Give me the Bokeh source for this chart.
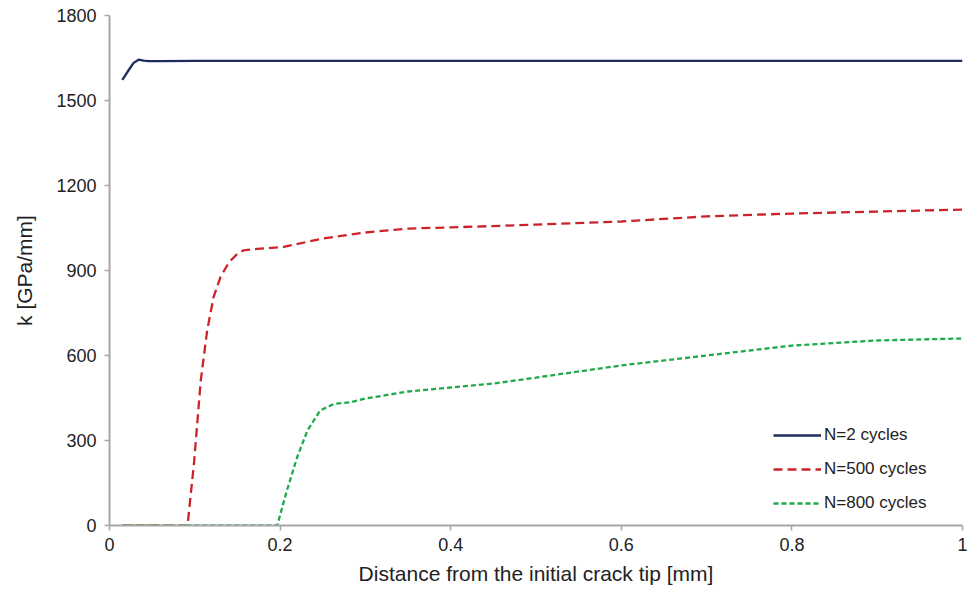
from bokeh.plotting import figure
from bokeh.models import Range1d, Legend, LegendItem, FixedTicker
from bokeh.embed import file_html
from bokeh.resources import INLINE

# N=2 cycles
x_n2 = [0.015, 0.022, 0.028, 0.034, 0.040, 0.046, 0.060, 0.10, 0.20, 0.40, 0.60, 0.80, 1.00]
k_n2 = [1573, 1605, 1632, 1644, 1641, 1639, 1639, 1640, 1640, 1640, 1640, 1640, 1640]

# N=500 cycles
x_n500 = [0.015, 0.060, 0.090, 0.0915, 0.099, 0.107, 0.1145, 0.122, 0.130, 0.140, 0.150, 0.157,
          0.173, 0.204, 0.25, 0.30, 0.35, 0.40, 0.50, 0.60, 0.70, 0.80, 0.90, 1.00]
k_n500 = [0, 0, 0, 0, 218, 512, 688, 806, 876, 929, 959, 971,
          976, 983, 1013, 1034, 1048, 1052, 1062, 1073, 1091, 1101, 1108, 1115]

# N=800 cycles
x_n800 = [0.015, 0.10, 0.194, 0.1966, 0.208, 0.220, 0.232, 0.247, 0.263, 0.2825,
          0.30, 0.35, 0.40, 0.45, 0.50, 0.60, 0.70, 0.80, 0.90, 1.00]
k_n800 = [0, 0, 0, 0, 124, 241, 335, 406, 429, 435,
          448, 473, 487, 501, 522, 565, 600, 635, 653, 660]

x_ticks = [0, 0.2, 0.4, 0.6, 0.8, 1.0]
y_ticks = [0, 300, 600, 900, 1200, 1500, 1800]
labels = ["N=2 cycles", "N=500 cycles", "N=800 cycles"]

FONT = "Liberation Sans"

p = figure(width=969, height=603, output_backend="svg", toolbar_location=None,
           x_range=Range1d(0, 1), y_range=Range1d(0, 1800),
           min_border_left=109, min_border_right=7, min_border_top=15, min_border_bottom=78)
p.outline_line_color = None
p.xgrid.grid_line_color = None
p.ygrid.grid_line_color = None
p.background_fill_color = "white"
p.border_fill_color = "white"

r1 = p.line(x_n2, k_n2, line_color="#1f2d5e", line_width=2.3)
r2 = p.line(x_n500, k_n500, line_color="#cc2229", line_width=2.3, line_dash="9 5")
r3 = p.line(x_n800, k_n800, line_color="#1faa4a", line_width=2.3, line_dash="5 3")

for ax in (p.xaxis[0], p.yaxis[0]):
    ax.axis_line_color = "#a6a6a6"
    ax.axis_line_width = 2
    ax.major_tick_line_color = "#a6a6a6"
    ax.major_tick_line_width = 1.5
    ax.major_tick_out = 5
    ax.major_tick_in = 0
    ax.minor_tick_line_color = None
    ax.major_label_text_font = FONT
    ax.major_label_text_font_size = "18px"
    ax.major_label_text_color = "#222222"
    ax.axis_label_text_font = FONT
    ax.axis_label_text_font_size = "21px"
    ax.axis_label_text_font_style = "normal"
    ax.axis_label_text_color = "#222222"

p.xaxis[0].ticker = FixedTicker(ticks=x_ticks)
p.yaxis[0].ticker = FixedTicker(ticks=y_ticks)
p.xaxis[0].major_label_overrides = {0: "0", 0.2: "0.2", 0.4: "0.4", 0.6: "0.6", 0.8: "0.8", 1.0: "1"}
p.xaxis[0].axis_label = "Distance from the initial crack tip [mm]"
p.yaxis[0].axis_label = "k [GPa/mm]"
p.xaxis[0].major_label_standoff = 7
p.xaxis[0].axis_label_standoff = 8
p.yaxis[0].major_label_standoff = 8
p.yaxis[0].axis_label_standoff = 17

legend = Legend(items=[LegendItem(label=labels[0], renderers=[r1]),
                       LegendItem(label=labels[1], renderers=[r2]),
                       LegendItem(label=labels[2], renderers=[r3])],
                location=(664, 12))
legend.border_line_color = None
legend.background_fill_alpha = 0
legend.padding = 0
legend.margin = 0
legend.spacing = 14
legend.glyph_width = 48
legend.glyph_height = 20
legend.label_height = 20
legend.label_standoff = 3
legend.label_text_font = FONT
legend.label_text_font_size = "17px"
legend.label_text_color = "#222222"
p.add_layout(legend, "center")

open("out.html", "w").write(file_html(p, INLINE))
